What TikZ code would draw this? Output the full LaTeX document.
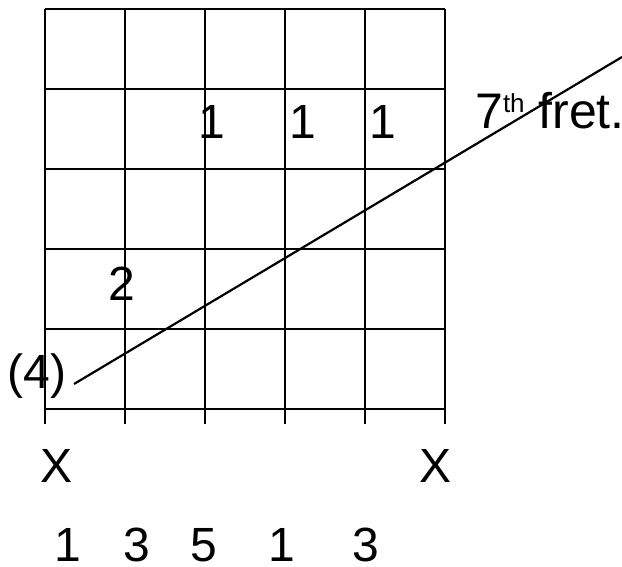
\documentclass[tikz,border=0pt]{standalone}
\usepackage{fontspec}
\setmainfont{Liberation Sans}
\begin{document}
\begin{tikzpicture}[x=1pt,y=-1pt,
  lbl/.style={inner sep=0pt, anchor=base, font=\fontsize{48}{48}\selectfont},
  gridline/.style={line width=1.5pt},
  fretline/.style={line width=2.2pt}]
\useasboundingbox (0,0) rectangle (622,566);
% grid
\foreach \x in {45,125,205,285,365,445} \draw[gridline] (\x,9) -- (\x,424);
\foreach \y in {9,89,169,249,329,409} \draw[gridline] (45,\y) -- (445,\y);
% fret line
\coordinate (fs) at (74,384);
\coordinate (fe) at (622,57);
\draw[fretline] (fs) -- (fe);
% finger labels
\node[lbl] (f1) at (212,138) {1};
\node[lbl] (f2) at (303,138) {1};
\node[lbl] (f3) at (383,138) {1};
\node[lbl] (f4) at (122,300) {2};
\node[lbl] (f5) at (37,388) {(4)};
\node[lbl, anchor=base west, font=\fontsize{50}{50}\selectfont] (fret) at (475,128) {7\raisebox{16pt}{\fontsize{26}{26}\selectfont th} fret.};
% muted strings
\node[lbl] (x1) at (57,482) {X};
\node[lbl] (x2) at (436,482) {X};
% intervals
\node[lbl] (i1) at (68,561) {1};
\node[lbl] (i2) at (137,561) {3};
\node[lbl] (i3) at (204,561) {5};
\node[lbl] (i4) at (282,561) {1};
\node[lbl] (i5) at (366,561) {3};
\end{tikzpicture}
\end{document}
